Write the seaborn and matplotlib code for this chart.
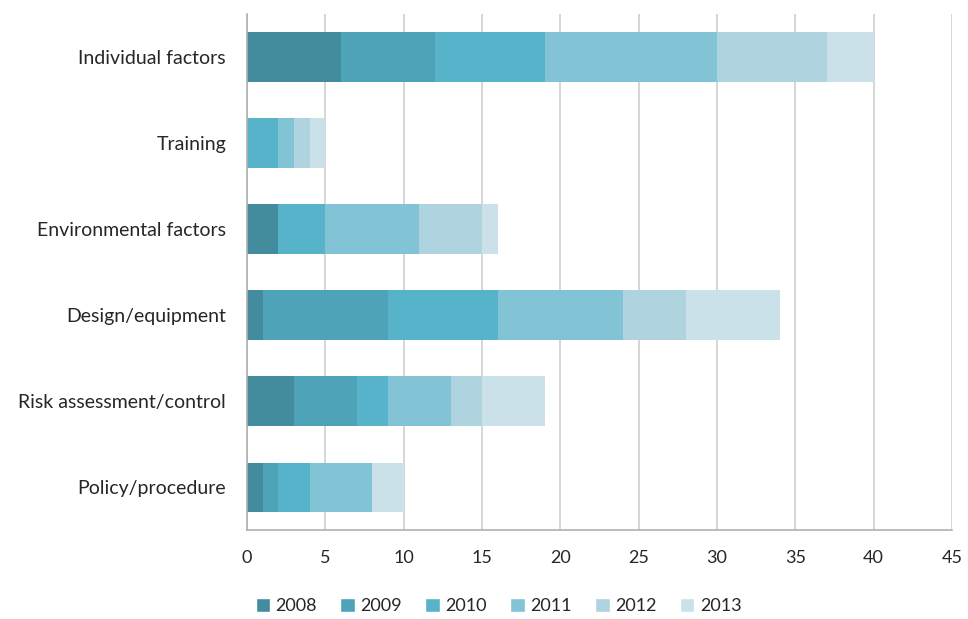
import numpy as np
import pandas as pd
import seaborn as sns
import matplotlib.pyplot as plt
from matplotlib.patches import Patch

categories = ["Individual factors", "Training", "Environmental factors",
              "Design/equipment", "Risk assessment/control", "Policy/procedure"]
years = ["2008", "2009", "2010", "2011", "2012", "2013"]

# counts per year, one list per category (same order as categories)
v2008 = [6, 0, 2, 1, 3, 1]
v2009 = [6, 0, 0, 8, 4, 1]
v2010 = [7, 2, 3, 7, 2, 2]
v2011 = [11, 1, 6, 8, 4, 4]
v2012 = [7, 1, 4, 4, 2, 0]
v2013 = [3, 1, 1, 6, 4, 2]

colors = ["#428c9e", "#4fa3b8", "#56b3c9", "#82c3d6", "#afd3df", "#cbe1ea"]

sns.set_theme(style="white")
plt.rcParams['font.family'] = ['Lato', 'DejaVu Sans']

df = pd.DataFrame({"category": categories, "2008": v2008, "2009": v2009, "2010": v2010,
                   "2011": v2011, "2012": v2012, "2013": v2013})
cum = df[years].cumsum(axis=1)

fig = plt.figure(figsize=(9.68, 6.19), dpi=100)
ax = fig.add_axes([0.255, 0.143, 0.7285, 0.834])

# stacked bars: draw the cumulative totals from the last year backwards
for year, col in reversed(list(zip(years, colors))):
    sns.barplot(x=cum[year], y=df["category"], color=col, width=0.58,
                saturation=1, linewidth=0, ax=ax, orient="h")

ax.set_xlim(0, 45)
ax.set_xticks(range(0, 46, 5))
ax.set_xlabel("")
ax.set_ylabel("")
ax.xaxis.grid(True, color="#d0d0d0", linewidth=1.2)
ax.set_axisbelow(True)
for s in ["top", "right"]:
    ax.spines[s].set_visible(False)
ax.spines["left"].set_color("#b0b0b0")
ax.spines["bottom"].set_color("#b0b0b0")
ax.spines["left"].set_linewidth(1.2)
ax.spines["bottom"].set_linewidth(1.2)
ax.tick_params(axis="y", labelsize=14, pad=15, length=0)
ax.tick_params(axis="x", labelsize=13, pad=14, length=0)

handles = [Patch(facecolor=c, label=y) for y, c in zip(years, colors)]
fig.legend(handles=handles, loc="lower center", bbox_to_anchor=(0.515, -0.018), ncol=6,
           frameon=False, fontsize=13, handlelength=0.8, handleheight=0.8,
           handletextpad=0.3, columnspacing=1.3)

fig.savefig("out.png", dpi=100)
